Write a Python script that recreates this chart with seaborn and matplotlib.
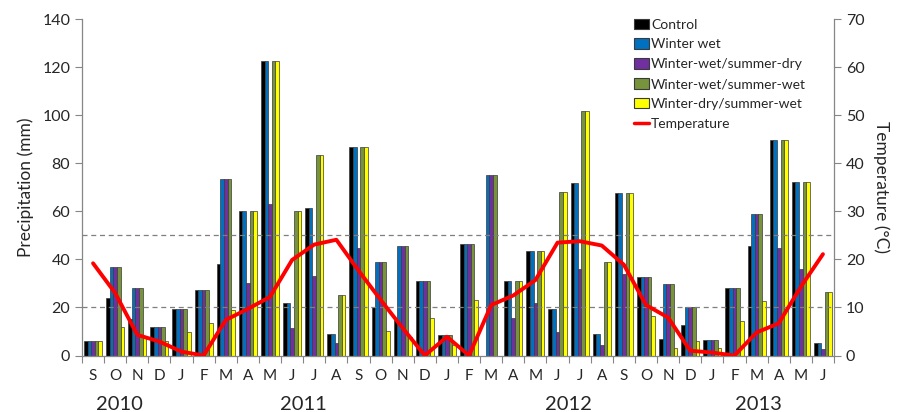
import numpy as np
import pandas as pd
import matplotlib
matplotlib.use("Agg")
import matplotlib.pyplot as plt
import matplotlib.transforms as mtransforms
from matplotlib.patches import Patch
from matplotlib.lines import Line2D
import seaborn as sns

months = ["S", "O", "N", "D",
          "J", "F", "M", "A", "M", "J", "J", "A", "S", "O", "N", "D",
          "J", "F", "M", "A", "M", "J", "J", "A", "S", "O", "N", "D",
          "J", "F", "M", "A", "M", "J"]
years = ["2010", "2011", "2012", "2013"]
year_pos = [1.2, 9.5, 21.5, 30.1]

series_names = ["Control", "Winter wet", "Winter-wet/summer-dry",
                "Winter-wet/summer-wet", "Winter-dry/summer-wet"]

control = [6, 24, 15, 12, 19.5, 27.3, 38, 60, 122.5, 21.8, 61.3, 9, 86.8, 20.3, 14.8, 30.9,
           8.5, 46.6, 0, 31.2, 43.5, 19.3, 72, 9, 67.7, 32.5, 6.7, 12.7, 6.6, 28.3, 45.8, 89.7, 72.2, 5.2]
winter_wet = [6, 36.7, 28.2, 12, 19.5, 27.3, 73.5, 60, 122.5, 21.8, 61.3, 9, 86.8, 39.1, 45.8, 30.9,
              8.5, 46.6, 75, 31.2, 43.5, 19.3, 72, 9, 67.7, 32.5, 29.7, 20.4, 6.6, 28.3, 58.9, 89.7, 72.2, 5.2]
ww_sd = [6, 36.7, 28.2, 12, 19.5, 27.3, 73.5, 30, 63, 11.3, 33, 5, 44.8, 39.1, 45.8, 30.9,
         8.5, 46.6, 75, 15.5, 21.8, 9.7, 36, 4.5, 33.8, 32.5, 29.7, 20.4, 6.6, 28.3, 58.9, 44.9, 36.2, 2.5]
ww_sw = [6, 36.7, 28.2, 12, 19.5, 27.3, 73.5, 60, 122.5, 60, 83.5, 25.4, 86.8, 39.1, 45.8, 30.9,
         8.5, 46.6, 75, 31.2, 43.5, 68, 102, 39, 67.7, 32.5, 29.7, 20.4, 6.6, 28.3, 58.9, 89.7, 72.2, 26.3]
wd_sw = [6, 12, 8, 6, 9.8, 13.7, 19, 60, 122.5, 60, 83.5, 25.4, 86.8, 10.3, 7.9, 15.5,
         4.3, 23.3, 0, 31.2, 43.5, 68, 102, 39, 67.7, 16.3, 3.3, 6, 3.2, 14.2, 22.9, 89.7, 72.2, 26.3]
temperature = [19.2, 13, 4.3, 2.9, 0.8, 0, 7.4, 9.7, 12.2, 19.9, 23.1, 24.1, 17.7, 11.6, 5.7, 0,
               3.9, 0, 10.5, 12.5, 15.7, 23.5, 23.8, 22.9, 18.9, 10.5, 7.9, 1.0, 0.6, 0, 4.8, 6.7, 14.3, 21.1]

colors = ["#000000", "#0070C0", "#7030A0", "#77933C", "#FFFF00"]

n = len(months)
idx = list(range(n))
rows = []
for name, vals in zip(series_names, [control, winter_wet, ww_sd, ww_sw, wd_sw]):
    for i, v in enumerate(vals):
        rows.append({"pos": i, "series": name, "value": v})
df = pd.DataFrame(rows)

sns.set_theme(style="white")
plt.rcParams["font.family"] = ["Lato", "DejaVu Sans"]

fig = plt.figure(figsize=(9.08, 4.12), dpi=100)
ax = fig.add_axes([82 / 908, 1 - 355.5 / 412, (834 - 82) / 908, (355.5 - 19.3) / 412])

sns.barplot(data=df, x="pos", y="value", hue="series", order=idx, hue_order=series_names,
            palette=colors, ax=ax, width=0.82, edgecolor="#3a3a3a", linewidth=0.5,
            saturation=1, legend=False, errorbar=None)

ax2 = ax.twinx()
ax2.axhline(10, color="#7f7f7f", ls=(0, (4, 3)), lw=0.9)
ax2.axhline(25, color="#7f7f7f", ls=(0, (4, 3)), lw=0.9)
sns.lineplot(x=idx, y=temperature, ax=ax2, color="#FF0000", lw=2.8, legend=False)

ax.set_xlim(-0.5, n - 0.5)
ax.set_ylim(0, 140)
ax2.set_ylim(0, 70)
ax.set_yticks(range(0, 141, 20))
ax2.set_yticks(range(0, 71, 10))

ax.set_xticks(np.arange(-0.5, n, 1.0))
ax.set_xticklabels([])
ax.set_xticks(idx, minor=True)
ax.set_xticklabels(months, minor=True)
ax.tick_params(axis="x", which="major", direction="out", length=5, width=0.8, color="#868686", bottom=True)
ax.tick_params(axis="x", which="minor", length=0, labelsize=11, pad=10)
ax.tick_params(axis="y", direction="out", length=5, width=0.8, color="#868686", labelsize=11.5, left=True)
ax2.tick_params(axis="y", direction="out", length=5, width=0.8, color="#868686", labelsize=11.5, right=True)

ax.set_xlabel("")
ax.set_ylabel("Precipitation (mm)", fontsize=12.5, labelpad=6)
ax2.set_ylabel("Temperature (°C)", fontsize=12.5, rotation=-90, labelpad=18)

for a in (ax, ax2):
    a.spines["top"].set_visible(False)
    for s in ("left", "right", "bottom"):
        a.spines[s].set_color("#868686")
        a.spines[s].set_linewidth(0.9)
ax.spines["right"].set_visible(False)
ax2.spines["left"].set_visible(False)
ax2.spines["bottom"].set_visible(False)
ax.grid(False)
ax2.grid(False)

trans = mtransforms.blended_transform_factory(ax.transData, fig.transFigure)
for y, p in zip(years, year_pos):
    ax.text(p, 1 - 405 / 412, y, transform=trans, ha="center", va="center", fontsize=14.5)

handles = [Patch(facecolor=c, edgecolor="#3a3a3a", linewidth=0.8) for c in colors]
handles.append(Line2D([0], [0], color="#FF0000", lw=2.5))
leg = ax.legend(handles, series_names + ["Temperature"], loc="upper left",
                bbox_to_anchor=(628 / 908, 1 - 13 / 412), bbox_transform=fig.transFigure,
                frameon=False, fontsize=10, handlelength=1.1, handleheight=0.8,
                handletextpad=0.15, labelspacing=0.55, borderaxespad=0)
ax2.add_artist(leg) if False else None

fig.savefig("out.png", dpi=100)
